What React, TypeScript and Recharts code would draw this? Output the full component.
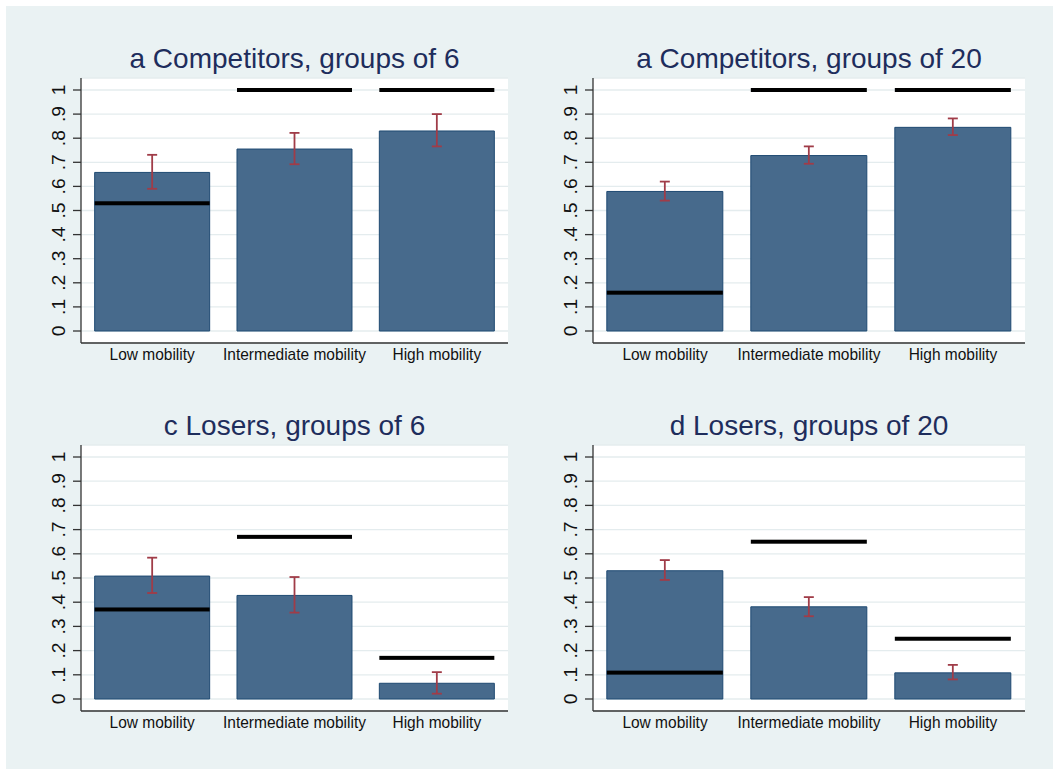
import { ComposedChart, Bar, ErrorBar, XAxis, YAxis, CartesianGrid } from 'recharts';

// Categories and tick labels
const categories = ['Low mobility', 'Intermediate mobility', 'High mobility'];
const yTicks = [0, 0.1, 0.2, 0.3, 0.4, 0.5, 0.6, 0.7, 0.8, 0.9, 1];
const yTickLabels = ['0', '.1', '.2', '.3', '.4', '.5', '.6', '.7', '.8', '.9', '1'];

// a Competitors, groups of 6
const compSix = [0.658, 0.755, 0.83];
const compSixLo = [0.59, 0.692, 0.766];
const compSixHi = [0.731, 0.822, 0.9];
const compSixRef = [0.53, 1, 1];

// a Competitors, groups of 20
const compTwenty = [0.579, 0.728, 0.845];
const compTwentyLo = [0.541, 0.694, 0.813];
const compTwentyHi = [0.62, 0.766, 0.882];
const compTwentyRef = [0.159, 1, 1];

// c Losers, groups of 6
const loseSix = [0.508, 0.428, 0.065];
const loseSixLo = [0.438, 0.357, 0.022];
const loseSixHi = [0.584, 0.504, 0.111];
const loseSixRef = [0.37, 0.67, 0.17];

// d Losers, groups of 20
const loseTwenty = [0.53, 0.381, 0.108];
const loseTwentyLo = [0.492, 0.342, 0.081];
const loseTwentyHi = [0.574, 0.421, 0.141];
const loseTwentyRef = [0.109, 0.65, 0.249];

const FONT = '"Liberation Sans", Arial, Helvetica, sans-serif';
const BG = '#eaf2f3';
const BAR_FILL = '#476a8c';
const BAR_EDGE = '#1f4a72';
const CI_COLOR = '#a03c48';
const AXIS = '#333';

function buildRows(val: number[], lo: number[], hi: number[], mark: number[]) {
  return categories.map((name, i) => ({
    name,
    value: val[i],
    err: [val[i] - lo[i], hi[i] - val[i]],
    mark: mark[i],
  }));
}

// rotated y labels, stretched a little along their length like the original
function YTick({ x, y, payload }: any) {
  const idx = yTicks.findIndex((t) => Math.abs(t - payload.value) < 1e-6);
  return (
    <text
      transform={`translate(${x - 8},${y}) rotate(-90) scale(1.1,1)`}
      textAnchor="middle"
      fontSize={17.5}
      fontFamily={FONT}
      fill="#111"
    >
      {yTickLabels[idx]}
    </text>
  );
}

function XTick({ x, y, payload }: any) {
  return (
    <text
      transform={`translate(${x},${y + 17}) scale(1,1.08)`}
      textAnchor="middle"
      fontSize={15.5}
      fontFamily={FONT}
      fill="#111"
    >
      {payload.value}
    </text>
  );
}

// thick black marker drawn across the bar slot at the reference value
function MarkShape({ x, y, width }: any) {
  return <rect x={x} y={y - 2} width={width} height={4} fill="#000" />;
}

interface PanelProps {
  left: number;
  top: number;
  width: number;
  height: number;
  margin: { top: number; right: number; left: number; bottom: number };
  title: string;
  titleY: number;
  rows: ReturnType<typeof buildRows>;
}

function Panel({ left, top, width, height, margin, title, titleY, rows }: PanelProps) {
  const plotLeft = margin.left + 40;
  const plotRight = width - margin.right;
  const titleX = (plotLeft + plotRight) / 2;
  return (
    <div style={{ position: 'absolute', left, top, width, height }}>
      <svg width={width} height={height} style={{ position: 'absolute', left: 0, top: 0 }}>
        <text x={titleX} y={titleY} textAnchor="middle" fontSize={28} fontFamily={FONT} fill="#1e2d5c">
          {title}
        </text>
      </svg>
      <div style={{ position: 'absolute', left: 0, top: 0 }}>
        <ComposedChart width={width} height={height} data={rows} margin={margin} barCategoryGap="9.6%">
          <CartesianGrid horizontal vertical={false} fill="#fff" stroke="#e4ecee" strokeWidth={1.3} />
          <XAxis
            dataKey="name"
            tick={<XTick />}
            tickLine={false}
            tickSize={0}
            tickMargin={0}
            height={30}
            axisLine={{ stroke: AXIS, strokeWidth: 1.3 }}
            interval={0}
          />
          <XAxis xAxisId="mk" dataKey="name" hide />
          <YAxis
            type="number"
            domain={[0, 1]}
            ticks={yTicks}
            width={40}
            tick={<YTick />}
            tickSize={8}
            tickMargin={0}
            tickLine={{ stroke: AXIS, strokeWidth: 1.3 }}
            axisLine={{ stroke: AXIS, strokeWidth: 1.3 }}
            padding={{ top: 12, bottom: 12 }}
            interval={0}
          />
          <Bar dataKey="value" fill={BAR_FILL} stroke={BAR_EDGE} strokeWidth={1} isAnimationActive={false}>
            <ErrorBar dataKey="err" width={5} stroke={CI_COLOR} strokeWidth={1.8} isAnimationActive={false} />
          </Bar>
          <Bar dataKey="mark" xAxisId="mk" shape={<MarkShape />} isAnimationActive={false} />
        </ComposedChart>
      </div>
    </div>
  );
}

export default function App() {
  return (
    <div style={{ position: 'absolute', left: 0, top: 0, width: 1053, height: 769, background: '#fff' }}>
      <div style={{ position: 'absolute', left: 6, top: 6, right: 0, bottom: 0, background: BG }} />
      <Panel
        left={0}
        top={0}
        width={530}
        height={390}
        margin={{ top: 78, right: 22, left: 41, bottom: 17 }}
        title="a Competitors, groups of 6"
        titleY={68}
        rows={buildRows(compSix, compSixLo, compSixHi, compSixRef)}
      />
      <Panel
        left={530}
        top={0}
        width={523}
        height={390}
        margin={{ top: 78, right: 28, left: 23, bottom: 17 }}
        title="a Competitors, groups of 20"
        titleY={68}
        rows={buildRows(compTwenty, compTwentyLo, compTwentyHi, compTwentyRef)}
      />
      <Panel
        left={0}
        top={390}
        width={530}
        height={379}
        margin={{ top: 55, right: 22, left: 41, bottom: 28 }}
        title="c Losers, groups of 6"
        titleY={45}
        rows={buildRows(loseSix, loseSixLo, loseSixHi, loseSixRef)}
      />
      <Panel
        left={530}
        top={390}
        width={523}
        height={379}
        margin={{ top: 55, right: 28, left: 23, bottom: 28 }}
        title="d Losers, groups of 20"
        titleY={45}
        rows={buildRows(loseTwenty, loseTwentyLo, loseTwentyHi, loseTwentyRef)}
      />
    </div>
  );
}
